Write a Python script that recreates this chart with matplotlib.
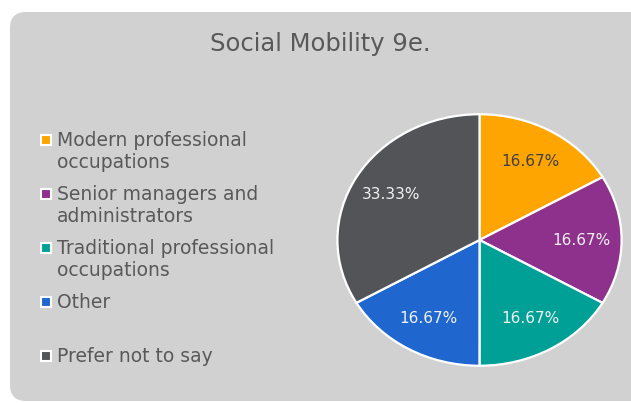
import matplotlib.pyplot as plt
from matplotlib.patches import FancyBboxPatch, Rectangle

# --- data ---
categories = [
    "Modern professional\noccupations",
    "Senior managers and\nadministrators",
    "Traditional professional\noccupations",
    "Other",
    "Prefer not to say",
]
shares = [16.67, 16.67, 16.67, 16.67, 33.33]
colors = ["#FFA502", "#8E318C", "#00A096", "#1F67CF", "#525458"]
label_colors = ["#404040", "#F2F2F2", "#F2F2F2", "#F2F2F2", "#F2F2F2"]
title = "Social Mobility 9e."

W, H, DPI = 631, 403, 100
fig = plt.figure(figsize=(W / DPI, H / DPI), dpi=DPI)
fig.patch.set_facecolor("white")

# rounded grey card (pixel units -> inches), kept behind the axes
card = FancyBboxPatch(
    (10 / DPI, 2 / DPI), 640 / DPI, 389 / DPI,
    boxstyle="round,pad=0,rounding_size=0.16",
    transform=fig.dpi_scale_trans, facecolor="#D1D1D1", edgecolor="none",
    zorder=-5,
)
fig.patches.append(card)

txt = "#595959"
fig.text(320 / W, 1 - 44 / H, title, ha="center", va="center",
         fontsize=17.5, color=txt, family="DejaVu Sans")

# pie (slightly stretched horizontally like the reference)
ax = fig.add_axes([336 / W, 1 - 367 / H, 287 / W, 254 / H])
ax.set_zorder(2)
wedges, texts, autotexts = ax.pie(
    shares, colors=colors, startangle=90, counterclock=False,
    autopct="%.2f%%", pctdistance=0.72,
    wedgeprops=dict(edgecolor="white", linewidth=1.6),
    textprops=dict(fontsize=11, family="DejaVu Sans"),
)
for t, c in zip(autotexts, label_colors):
    t.set_color(c)
ax.set_aspect("auto")
ax.set_xlim(-1.01, 1.01)
ax.set_ylim(-1.01, 1.01)

# legend, drawn by hand to keep Excel-like spacing
row_y = [140, 194, 248, 302, 356]
for w, lab, y in zip(wedges, categories, row_y):
    fig.patches.append(Rectangle(
        (41 / DPI, (H - y - 5) / DPI), 10 / DPI, 10 / DPI,
        transform=fig.dpi_scale_trans, facecolor=w.get_facecolor(),
        edgecolor="white", linewidth=1.5, zorder=3,
    ))
    fig.text(57 / W, 1 - (y - 9) / H, lab, ha="left", va="top",
             fontsize=13.5, color=txt, linespacing=1.2,
             family="DejaVu Sans")

fig.savefig("out.png", dpi=DPI, facecolor=fig.get_facecolor())
